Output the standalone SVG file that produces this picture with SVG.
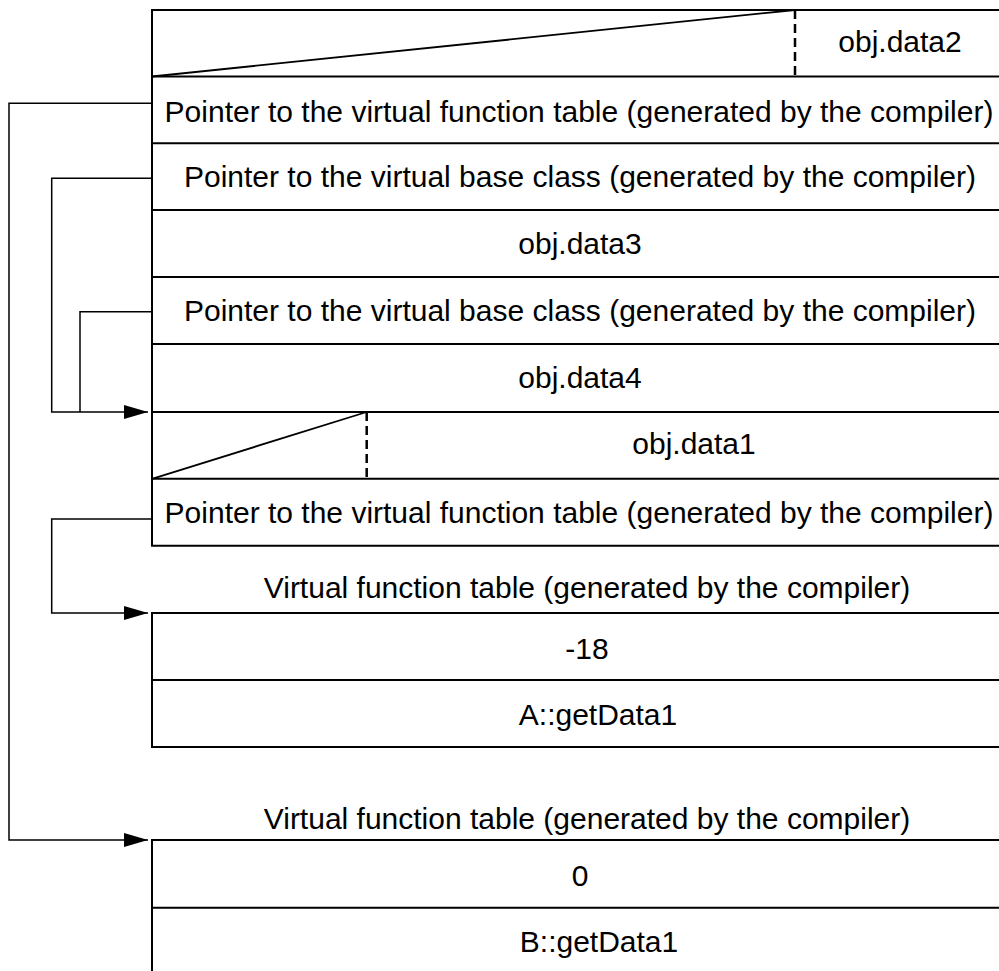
<svg xmlns="http://www.w3.org/2000/svg" width="999" height="971" viewBox="0 0 999 971">
<defs>
<style>
.box{fill:none;stroke:#000;stroke-width:2}
.ln{fill:none;stroke:#000;stroke-width:2}
.diag{fill:none;stroke:#000;stroke-width:1.8}
.dash{fill:none;stroke:#000;stroke-width:2.5;stroke-dasharray:9,5}
.con{fill:none;stroke:#000;stroke-width:1.5}
text{font-family:"Liberation Sans",Arial,sans-serif;font-size:30px;fill:#000;text-anchor:middle}
</style>
<marker id="arr" markerWidth="24" markerHeight="14" refX="24" refY="7" orient="auto" markerUnits="userSpaceOnUse">
<path d="M0,0 L24,7 L0,14 Z" fill="#000"/>
</marker>
</defs>
<rect width="999" height="971" fill="#fff"/>

<g id="object">
<path class="box" d="M1010,10 H152 V545.7 H1010"/>
<line class="ln" x1="152" y1="76.5" x2="1010" y2="76.5"/>
<line class="ln" x1="152" y1="143.3" x2="1010" y2="143.3"/>
<line class="ln" x1="152" y1="210" x2="1010" y2="210"/>
<line class="ln" x1="152" y1="277" x2="1010" y2="277"/>
<line class="ln" x1="152" y1="344" x2="1010" y2="344"/>
<line class="ln" x1="152" y1="412" x2="1010" y2="412"/>
<line class="ln" x1="152" y1="478.8" x2="1010" y2="478.8"/>
<g id="row1">
<line class="diag" x1="152" y1="76.5" x2="795" y2="10"/>
<line class="dash" x1="795" y1="10" x2="795" y2="76.5"/>
<text x="900" y="52">obj.data2</text>
</g>
<text id="row2" x="579" y="121.5">Pointer to the virtual function table (generated by the compiler)</text>
<text id="row3" x="580" y="187">Pointer to the virtual base class (generated by the compiler)</text>
<text id="row4" x="580" y="254">obj.data3</text>
<text id="row5" x="580" y="321">Pointer to the virtual base class (generated by the compiler)</text>
<text id="row6" x="580" y="388">obj.data4</text>
<g id="row8">
<line class="diag" x1="152" y1="478.8" x2="366.7" y2="412"/>
<line class="dash" x1="366.7" y1="412" x2="366.7" y2="478.8"/>
<text x="694" y="454">obj.data1</text>
</g>
<text id="row9" x="579" y="523">Pointer to the virtual function table (generated by the compiler)</text>
</g>

<g id="vft1">
<text x="587" y="598">Virtual function table (generated by the compiler)</text>
<path class="box" d="M1010,613 H152 V747 H1010"/>
<line class="ln" x1="152" y1="680" x2="1010" y2="680"/>
<text x="587" y="659">-18</text>
<text x="598" y="725">A::getData1</text>
</g>

<g id="vft2">
<text x="587" y="829">Virtual function table (generated by the compiler)</text>
<path class="box" d="M1010,840 H152 V980"/>
<line class="ln" x1="152" y1="907.7" x2="1010" y2="907.7"/>
<text x="580" y="886">0</text>
<text x="599" y="952">B::getData1</text>
</g>

<g id="connectors">
<polyline class="con" points="152,103.3 9,103.3 9,840 148,840" marker-end="url(#arr)"/>
<polyline class="con" points="152,178.3 51.7,178.3 51.7,412 148,412" marker-end="url(#arr)"/>
<polyline class="con" points="152,311.7 80,311.7 80,412"/>
<polyline class="con" points="152,519 51.7,519 51.7,613 148,613" marker-end="url(#arr)"/>
</g>
</svg>
